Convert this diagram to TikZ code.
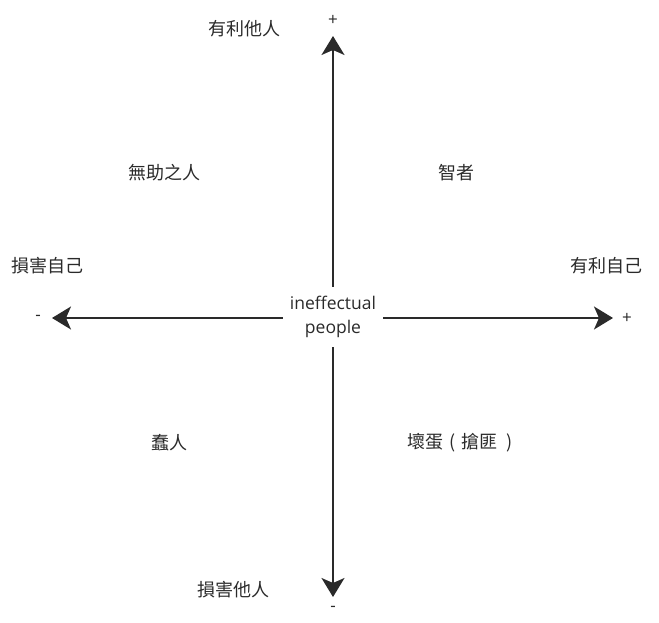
\documentclass[tikz,border=0pt]{standalone}
\usepackage{fontspec}
\setmainfont{Open Sans}
\newfontfamily\cjk{Noto Sans CJK TC}
\usetikzlibrary{arrows.meta}
\definecolor{ink}{HTML}{2A2A2A}
\begin{document}
\begin{tikzpicture}[x=1pt,y=-1pt,
  lbl/.style={text=ink,font=\cjk\fontsize{18}{20}\selectfont,inner sep=0pt},
  sgn/.style={text=ink,font=\fontsize{17}{18}\selectfont,inner sep=0pt},
  axis/.style={draw=ink,line width=1.8pt,-{Stealth[length=19pt,width=23pt,inset=5pt]}},
  center/.style={text=ink,font=\fontsize{17.5}{24}\selectfont,align=center,minimum width=100pt,minimum height=60pt,inner sep=0pt}]
\useasboundingbox (0,0) rectangle (659,623);
\node[center] (c) at (333,317) {ineffectual\\people};
\coordinate (top) at (333,36);
\coordinate (bot) at (333,597);
\coordinate (lft) at (52,318);
\coordinate (rgt) at (613,318);
\draw[axis] (c.north) -- (top);
\draw[axis] (c.south) -- (bot);
\draw[axis] (c.west |- lft) -- (lft);
\draw[axis] (c.east |- rgt) -- (rgt);
\node[sgn] (ptop) at (333,20) {+};
\node[sgn] (mbot) at (333,609) {-};
\node[sgn] (mlft) at (38,318) {-};
\node[sgn] (prgt) at (627,318) {+};
\node[lbl] (a1) at (244,29) {有利他人};
\node[lbl] (a2) at (164.5,173) {無助之人};
\node[lbl] (a3) at (456,173) {智者};
\node[lbl] (a4) at (47.5,266) {損害自己};
\node[lbl] (a5) at (606,266) {有利自己};
\node[lbl] (a6) at (169.5,443) {蠢人};
\node[lbl] (a7) at (460,443) {壞蛋\hspace{6pt}(\hspace{6pt}搶匪\hspace{9pt})};
\node[lbl] (a8) at (233,590) {損害他人};
\end{tikzpicture}
\end{document}
